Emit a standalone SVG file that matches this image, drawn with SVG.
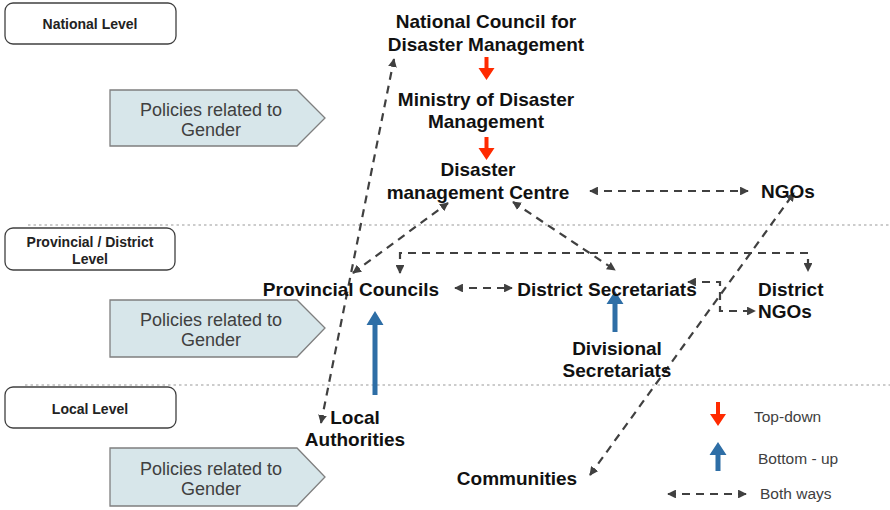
<svg xmlns="http://www.w3.org/2000/svg" width="890" height="510" viewBox="0 0 890 510">
<defs>
<marker id="ah" viewBox="0 0 10 10" refX="9" refY="5" markerWidth="4" markerHeight="4" orient="auto-start-reverse">
<path d="M0,0 L10,5 L0,10 z" fill="#404040"/>
</marker>
<style>
.lvl{fill:#fff;stroke:#404040;stroke-width:1.3}
.lvlt{font-family:"Liberation Sans",Arial,sans-serif;font-weight:bold;font-size:14px;fill:#222;text-anchor:middle}
.pol{fill:#d7e6ea;stroke:#7f7f7f;stroke-width:1.3}
.polt{font-family:"Liberation Sans",Arial,sans-serif;font-size:18px;fill:#404040;text-anchor:middle}
.nt{font-family:"Liberation Sans",Arial,sans-serif;font-weight:bold;font-size:19px;fill:#111}
.dot{stroke:#9a9a9a;stroke-width:1.2;stroke-dasharray:2.5 3;fill:none}
.dash{stroke:#404040;stroke-width:2.2;stroke-dasharray:8 6;fill:none;marker-start:url(#ah);marker-end:url(#ah)}
.leg{font-family:"Liberation Sans",Arial,sans-serif;font-size:15.5px;fill:#404040}
.red{fill:#ff2a00}
.blue{fill:#2e6ea6}
</style>
</defs>

<line class="dot" x1="28" y1="225" x2="890" y2="225"/>
<line class="dot" x1="25" y1="385" x2="890" y2="385"/>

<g id="level-national"><rect class="lvl" x="5" y="3" width="171" height="41" rx="8"/><text class="lvlt" x="90" y="29">National Level</text></g>
<g id="level-provincial"><rect class="lvl" x="5" y="228" width="170" height="42" rx="8"/><text class="lvlt" x="90" y="247">Provincial / District</text><text class="lvlt" x="90" y="264">Level</text></g>
<g id="level-local"><rect class="lvl" x="5" y="387" width="171" height="41" rx="8"/><text class="lvlt" x="90" y="414">Local Level</text></g>

<g id="policy-1"><polygon class="pol" points="110,90 297,90 325,118 297,146 110,146"/><text class="polt" x="211" y="116">Policies related to</text><text class="polt" x="211" y="136">Gender</text></g>
<g id="policy-2"><polygon class="pol" points="110,300 297,300 325,328 297,357 110,357"/><text class="polt" x="211" y="326">Policies related to</text><text class="polt" x="211" y="346">Gender</text></g>
<g id="policy-3"><polygon class="pol" points="110,448 297,448 325,477 297,506 110,506"/><text class="polt" x="211" y="475">Policies related to</text><text class="polt" x="211" y="495">Gender</text></g>

<g id="connectors">
<line class="dash" x1="321" y1="423" x2="394" y2="59"/>
<line class="dash" x1="353" y1="273" x2="448" y2="203"/>
<line class="dash" x1="513" y1="202" x2="615" y2="270"/>
<line class="dash" x1="590" y1="191" x2="748" y2="191"/>
<line class="dash" x1="590" y1="475" x2="794" y2="193"/>
<line class="dash" x1="455" y1="288" x2="512" y2="288"/>
<path class="dash" d="M400,273 V253 H808 V271"/>
<path class="dash" d="M688,282 H720 V311 H755"/>
<path class="red" d="M484.5,57 h4 v11 h6 l-8,12 l-8,-12 h6 z"/>
<path class="red" d="M484.5,137 h4 v11 h6 l-8,12 l-8,-12 h6 z"/>
<path class="blue" d="M372.5,395 h5 v-70 h6 l-8.5,-14 l-8.5,14 h6 z"/>
<path class="blue" d="M612.5,332 h5 v-28 h6 l-8.5,-13 l-8.5,13 h6 z"/>
</g>

<g id="n-ncdm"><text class="nt" x="486" y="28" text-anchor="middle">National Council for</text><text class="nt" x="486" y="51" text-anchor="middle">Disaster Management</text></g>
<g id="n-ministry"><text class="nt" x="486" y="106" text-anchor="middle">Ministry of Disaster</text><text class="nt" x="486" y="128" text-anchor="middle">Management</text></g>
<g id="n-dmc"><text class="nt" x="478" y="176" text-anchor="middle">Disaster</text><text class="nt" x="478" y="199" text-anchor="middle">management Centre</text></g>
<g id="n-ngos"><text class="nt" x="788" y="198" text-anchor="middle">NGOs</text></g>
<g id="n-provincial"><text class="nt" x="351" y="296" text-anchor="middle">Provincial Councils</text></g>
<g id="n-district-sec"><text class="nt" x="607" y="296" text-anchor="middle">District Secretariats</text></g>
<g id="n-district-ngos"><text class="nt" x="758" y="296">District</text><text class="nt" x="758" y="318">NGOs</text></g>
<g id="n-divisional"><text class="nt" x="617" y="355" text-anchor="middle">Divisional</text><text class="nt" x="617" y="377" text-anchor="middle">Secretariats</text></g>
<g id="n-local"><text class="nt" x="355" y="424" text-anchor="middle">Local</text><text class="nt" x="355" y="446" text-anchor="middle">Authorities</text></g>
<g id="n-communities"><text class="nt" x="517" y="485" text-anchor="middle">Communities</text></g>

<g id="legend">
<path class="red" d="M716,402 h4 v12 h6 l-8,12 l-8,-12 h6 z"/>
<text class="leg" x="754" y="422">Top-down</text>
<path class="blue" d="M715.5,471 h5 v-16 h6 l-8.5,-13 l-8.5,13 h6 z"/>
<text class="leg" x="758" y="464">Bottom - up</text>
<line class="dash" x1="668" y1="494" x2="746" y2="494"/>
<text class="leg" x="760" y="499">Both ways</text>
</g>
</svg>
